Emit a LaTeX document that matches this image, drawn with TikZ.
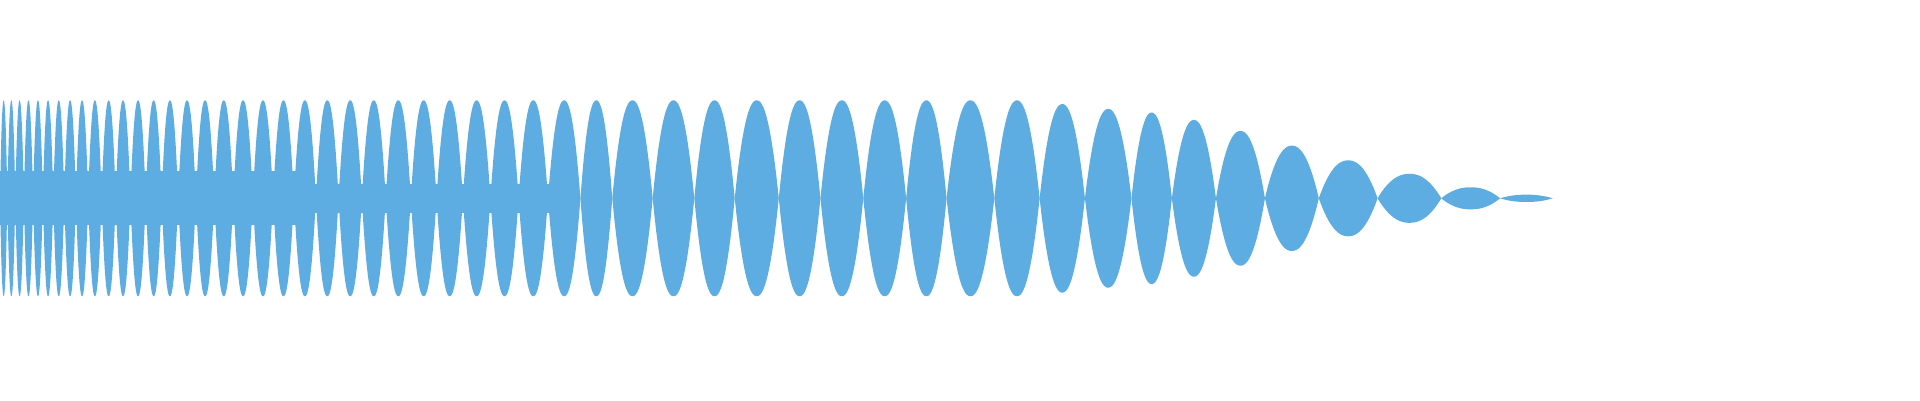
\documentclass[tikz,border=0pt]{standalone}
\definecolor{wave}{HTML}{5DADE2}
\begin{document}
\begin{tikzpicture}[x=0.031mm*1.2245,y=-0.031mm*1.2245,lobe/.style={fill=wave,draw=none}]
\useasboundingbox (0,0) rectangle (1568,327);
\fill[wave] (0,140) rectangle (250,184);
\fill[wave] (250,150) rectangle (470,174);
\foreach \a/\b/\A in {0/6/80,6/12.5/80,12.5/19.5/80,19.5/27/80,27/35/80,35/43.5/80,43.5/52.5/80,52.5/62/80,62/72/80,72/83/80,83/94.5/80,94.5/106.5/80,106.5/119/80,119/132/80,132/145.5/80,145.5/160/80,160/175/80,175/190.5/80,190.5/206.5/80,206.5/223/80,223/240/80,240/258/80,258/276.5/80,276.5/295.5/80,295.5/315/80,315/335.5/80,335.5/356.5/80,356.5/378/80,378/400.5/80,400.5/423.5/80,423.5/447.5/80,447.5/474/80,474/500/80,500/533/80,533/567/80,567/600/80,600/636/80,636/670/80,670/705/80,705/740/80,740/773/80,773/812/80,812/849/80,849/886/77,886/924/73,924/957/70,957/993/64,993/1033/55,1033/1077/43,1077/1125/31,1125/1177/20,1177/1225/9,1225/1268/3}{
  \fill[lobe] plot[domain=\a:\b,samples=30,smooth] (\x,{162-\A*(1-(abs(2*(\x-\a)/(\b-\a)-1))^2.2)})
    -- plot[domain=\b:\a,samples=30,smooth] (\x,{162+\A*(1-(abs(2*(\x-\a)/(\b-\a)-1))^2.2)}) -- cycle;
}
\end{tikzpicture}
\end{document}
